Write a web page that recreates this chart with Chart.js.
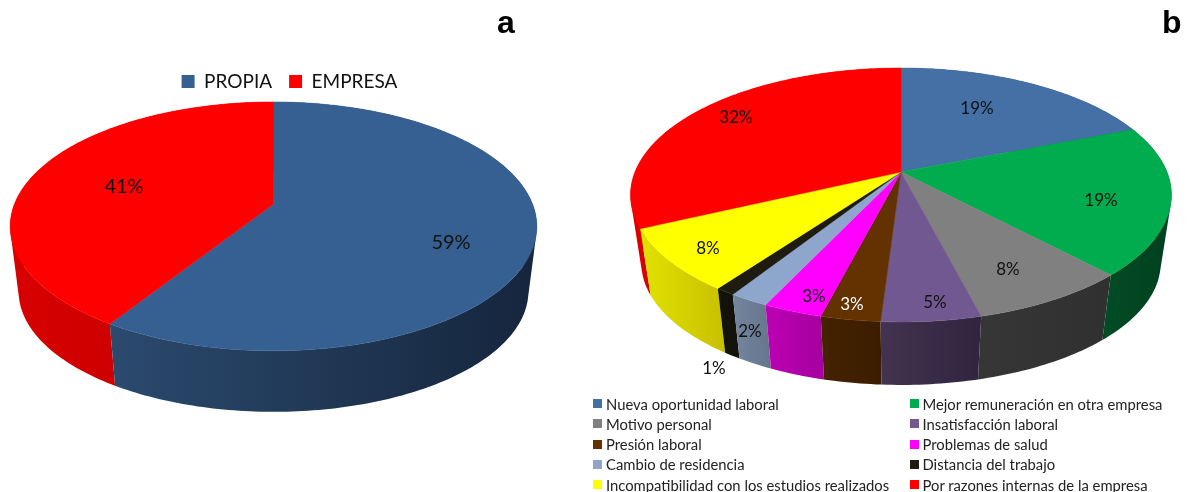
<!DOCTYPE html>
<html lang="es">
<head>
<meta charset="utf-8">
<title>Motivos de salida</title>
<script src="https://cdn.jsdelivr.net/npm/chart.js@4/dist/chart.umd.min.js"></script>
<style>
    html, body { margin: 0; padding: 0; background: #fff; }
    #page { position: relative; width: 1191px; height: 492px; overflow: hidden; font-family: Lato, sans-serif; }
    canvas { position: absolute; top: 0; }
    #chartA { left: 0; }
    #chartB { left: 579px; }
    .panel-letter { position: absolute; top: 2px; font: bold 32px "Liberation Sans", Arial, sans-serif; color: #000; line-height: 40px; }
    #reasonLegend { position: absolute; left: 593px; top: 393.5px; width: 590px; display: grid; grid-template-columns: 316.5px 1fr; grid-auto-rows: 20.3px; font-size: 14.8px; color: #222; }
    .legend-item { display: flex; align-items: center; white-space: nowrap; line-height: 20.3px; }
    .legend-swatch { width: 9px; height: 9px; margin-right: 4px; flex: none; }
</style>
</head>
<body>
<div id="page">
    <canvas id="chartA" width="579" height="492"></canvas>
    <canvas id="chartB" width="612" height="492"></canvas>
    <div class="panel-letter" style="left:497px">a</div>
    <div class="panel-letter" style="left:1162px">b</div>
    <div id="reasonLegend"></div>
</div>

<script>
// Panel a: who ended the employment
const originLabels = ['PROPIA', 'EMPRESA'];
const originValues = [59, 41];
const originColors = ['#376092', '#FF0000'];
const originWalls = [['#2B4A6E', '#15253C'], ['#D80000', '#BE0000']];
const originTextColors = ['#111', '#111'];
const originAnchors = [[451, 243], [124, 187]];

// Panel b: reasons for leaving
const reasonLabels = [
    'Nueva oportunidad laboral',
    'Mejor remuneración en otra empresa',
    'Motivo personal',
    'Insatisfacción laboral',
    'Presión laboral',
    'Problemas de salud',
    'Cambio de residencia',
    'Distancia del trabajo',
    'Incompatibilidad con los estudios realizados',
    'Por razones internas de la empresa'
];
const reasonValues = [19, 19, 8, 5, 3, 3, 2, 1, 8, 32];
const reasonColors = ['#4470A6', '#00AC4D', '#808080', '#725891', '#633200', '#FF00FF', '#8FA6CC', '#1E1C10', '#FFFF00', '#FF0000'];
const reasonWalls = [
    ['#2A4568', '#1E3350'], ['#004C25', '#00401E'], ['#363636', '#303030'], ['#433350', '#30243F'],
    ['#452200', '#3A1D00'], ['#BC00B4', '#A600A0'], ['#74869E', '#64758C'], ['#14130B', '#12110A'],
    ['#E2E200', '#C8C000'], ['#DC0000', '#C80000']
];
const reasonTextColors = ['#111', '#111', '#111', '#111', '#fff', '#111', '#111', '#111', '#111', '#111'];
const reasonAnchors = [[398, 109], [522, 201], [429, 270], [356, 303], [273, 305], [235, 297], [171, 332], [135, 369], [129, 249], [157, 118]];

// Maps a pie angle onto the tilted disc; the near edge is drawn larger than the far edge
function project(view, theta, onBase) {
    const u = Math.cos(theta);
    const v = Math.sin(theta);
    const w = 1 + view.perspective * v;
    const scale = onBase ? view.shrink : 1;
    return {
        x: view.cx + view.rx * scale * u / w,
        y: view.cy + view.ry * scale * v / w + (onBase ? view.depth : 0)
    };
}

function edgePoints(view, start, end, onBase) {
    const steps = Math.max(2, Math.ceil((end - start) / (Math.PI / 180)));
    const points = [];
    for (let i = 0; i <= steps; i++) {
        points.push(project(view, start + (end - start) * i / steps, onBase));
    }
    return points;
}

function addPolygon(ctx, points) {
    points.forEach((p, i) => (i ? ctx.lineTo(p.x, p.y) : ctx.moveTo(p.x, p.y)));
    ctx.closePath();
}

function signedArea(points) {
    return points.reduce((sum, p, i) => {
        const next = points[(i + 1) % points.length];
        return sum + p.x * next.y - next.x * p.y;
    }, 0);
}

// Replaces the flat arcs with a tilted disc built from the arc angles Chart.js computed
const tiltedPiePlugin = {
    id: 'tiltedPie',
    beforeDatasetDraw(chart, args, opts) {
        const ctx = chart.ctx;
        const arcs = chart.getDatasetMeta(args.index).data;
        const view = opts.view;

        ctx.save();

        // Outer walls first, far slices before near ones
        const order = arcs.map((arc, i) => i).sort((a, b) => {
            const midA = (arcs[a].startAngle + arcs[a].endAngle) / 2;
            const midB = (arcs[b].startAngle + arcs[b].endAngle) / 2;
            return Math.sin(midA) - Math.sin(midB);
        });
        order.forEach(i => {
            const top = edgePoints(view, arcs[i].startAngle, arcs[i].endAngle, false);
            const base = edgePoints(view, arcs[i].startAngle, arcs[i].endAngle, true);
            const xs = top.concat(base).map(p => p.x);
            const shade = ctx.createLinearGradient(Math.min(...xs), 0, Math.max(...xs), 0);
            shade.addColorStop(0, opts.walls[i][0]);
            shade.addColorStop(1, opts.walls[i][1]);

            // The strip folds over itself at the disc's silhouette, so wind every quad
            // the same way or the overlap cancels out under the nonzero rule
            ctx.beginPath();
            for (let k = 0; k < top.length - 1; k++) {
                const quad = [top[k], top[k + 1], base[k + 1], base[k]];
                addPolygon(ctx, signedArea(quad) < 0 ? quad.reverse() : quad);
            }
            ctx.fillStyle = shade;
            ctx.fill();
        });

        // Top faces
        const hub = { x: view.cx, y: view.cy };
        arcs.forEach((arc, i) => {
            const color = chart.data.datasets[args.index].backgroundColor[i];
            ctx.beginPath();
            addPolygon(ctx, [hub].concat(edgePoints(view, arc.startAngle, arc.endAngle, false)));
            ctx.fillStyle = color;
            ctx.strokeStyle = color;
            ctx.lineWidth = 0.5;
            ctx.fill();
            ctx.stroke();
        });

        ctx.restore();
        return false;
    },
    // Percent labels; afterDatasetDraw is skipped once beforeDatasetDraw cancels the dataset
    afterDatasetsDraw(chart, args, opts) {
        const ctx = chart.ctx;
        const values = chart.data.datasets[0].data;
        ctx.save();
        ctx.font = opts.font;
        ctx.textAlign = 'center';
        ctx.textBaseline = 'middle';
        values.forEach((value, i) => {
            ctx.fillStyle = opts.textColors[i];
            ctx.fillText(value + '%', opts.anchors[i][0], opts.anchors[i][1]);
        });
        ctx.restore();
    }
};

function createPie(canvasId, labels, values, colors, pluginOptions, legendOptions, topPadding) {
    return new Chart(document.getElementById(canvasId), {
        type: 'pie',
        data: {
            labels: labels,
            datasets: [{ data: values, backgroundColor: colors, borderWidth: 0 }]
        },
        options: {
            responsive: false,
            animation: false,
            layout: { padding: { top: topPadding } },
            plugins: {
                tooltip: { enabled: false },
                legend: legendOptions,
                tiltedPie: pluginOptions
            }
        },
        plugins: [tiltedPiePlugin]
    });
}

createPie('chartA', originLabels, originValues, originColors, {
    view: { cx: 273.5, cy: 204, rx: 259, ry: 120.4, perspective: -0.18, depth: 65.7, shrink: 0.968 },
    walls: originWalls,
    textColors: originTextColors,
    anchors: originAnchors,
    font: '20px Lato'
}, {
    display: true,
    position: 'top',
    labels: {
        boxWidth: 13,
        boxHeight: 13,
        padding: 17,
        color: '#111',
        font: { family: 'Lato', size: 19 }
    }
}, 55);

createPie('chartB', reasonLabels, reasonValues, reasonColors, {
    view: { cx: 322, cy: 172, rx: 266, ry: 122.8, perspective: -0.181, depth: 69, shrink: 0.96 },
    walls: reasonWalls,
    textColors: reasonTextColors,
    anchors: reasonAnchors,
    font: '17px Lato'
}, { display: false }, 0);

// Two-column legend for panel b, filled row by row
const legendBox = document.getElementById('reasonLegend');
legendBox.innerHTML = reasonLabels.map((label, i) => `
    <div class="legend-item">
        <span class="legend-swatch" style="background:${reasonColors[i]}"></span>${label}
    </div>
`).join('');
</script>
</body>
</html>
